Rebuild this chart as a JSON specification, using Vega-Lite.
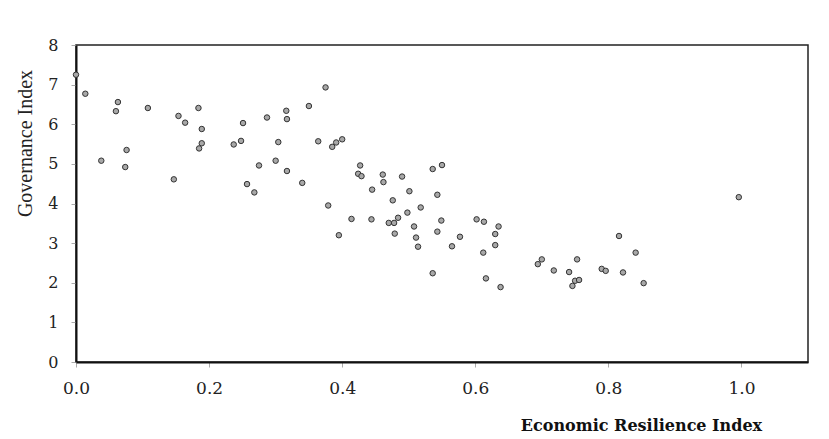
{
  "$schema": "https://vega.github.io/schema/vega-lite/v6.json",
  "autosize": {"type": "none"},
  "padding": {"left": 76, "top": 45, "right": 21, "bottom": 77},
  "width": 732,
  "height": 317,
  "background": "white",
  "config": {
    "view": {"stroke": "#222", "strokeWidth": 1.5},
    "axis": {"grid": false, "labelFlush": false, "labelOverlap": false}
  },
  "data": {
    "values": [
      {"eri": 0.000, "gov": 7.25}, {"eri": 0.014, "gov": 6.77}, {"eri": 0.063, "gov": 6.56},
      {"eri": 0.060, "gov": 6.33}, {"eri": 0.108, "gov": 6.41}, {"eri": 0.154, "gov": 6.21},
      {"eri": 0.164, "gov": 6.04}, {"eri": 0.184, "gov": 6.41}, {"eri": 0.189, "gov": 5.88},
      {"eri": 0.189, "gov": 5.52}, {"eri": 0.185, "gov": 5.39}, {"eri": 0.251, "gov": 6.03},
      {"eri": 0.248, "gov": 5.58}, {"eri": 0.237, "gov": 5.49}, {"eri": 0.076, "gov": 5.35},
      {"eri": 0.038, "gov": 5.08}, {"eri": 0.074, "gov": 4.92}, {"eri": 0.147, "gov": 4.61},
      {"eri": 0.275, "gov": 4.96}, {"eri": 0.257, "gov": 4.49}, {"eri": 0.268, "gov": 4.28},
      {"eri": 0.300, "gov": 5.08}, {"eri": 0.287, "gov": 6.17}, {"eri": 0.304, "gov": 5.55},
      {"eri": 0.375, "gov": 6.93}, {"eri": 0.350, "gov": 6.46}, {"eri": 0.316, "gov": 6.34},
      {"eri": 0.317, "gov": 6.13}, {"eri": 0.364, "gov": 5.57}, {"eri": 0.400, "gov": 5.62},
      {"eri": 0.391, "gov": 5.54}, {"eri": 0.385, "gov": 5.43}, {"eri": 0.317, "gov": 4.82},
      {"eri": 0.340, "gov": 4.52}, {"eri": 0.427, "gov": 4.96}, {"eri": 0.424, "gov": 4.75},
      {"eri": 0.429, "gov": 4.69}, {"eri": 0.461, "gov": 4.73}, {"eri": 0.462, "gov": 4.54},
      {"eri": 0.490, "gov": 4.68}, {"eri": 0.445, "gov": 4.35}, {"eri": 0.501, "gov": 4.31},
      {"eri": 0.476, "gov": 4.08}, {"eri": 0.536, "gov": 4.87}, {"eri": 0.550, "gov": 4.97},
      {"eri": 0.543, "gov": 4.22}, {"eri": 0.518, "gov": 3.90}, {"eri": 0.498, "gov": 3.77},
      {"eri": 0.484, "gov": 3.64}, {"eri": 0.414, "gov": 3.61}, {"eri": 0.444, "gov": 3.60},
      {"eri": 0.470, "gov": 3.51}, {"eri": 0.478, "gov": 3.51}, {"eri": 0.508, "gov": 3.42},
      {"eri": 0.549, "gov": 3.57}, {"eri": 0.543, "gov": 3.29}, {"eri": 0.479, "gov": 3.24},
      {"eri": 0.511, "gov": 3.14}, {"eri": 0.514, "gov": 2.91}, {"eri": 0.565, "gov": 2.92},
      {"eri": 0.577, "gov": 3.16}, {"eri": 0.602, "gov": 3.60}, {"eri": 0.613, "gov": 3.54},
      {"eri": 0.635, "gov": 3.42}, {"eri": 0.630, "gov": 3.23}, {"eri": 0.630, "gov": 2.95},
      {"eri": 0.612, "gov": 2.76}, {"eri": 0.536, "gov": 2.24}, {"eri": 0.616, "gov": 2.11},
      {"eri": 0.638, "gov": 1.89}, {"eri": 0.700, "gov": 2.59}, {"eri": 0.694, "gov": 2.47},
      {"eri": 0.379, "gov": 3.95}, {"eri": 0.395, "gov": 3.20}, {"eri": 0.718, "gov": 2.31},
      {"eri": 0.741, "gov": 2.27}, {"eri": 0.753, "gov": 2.59}, {"eri": 0.750, "gov": 2.05},
      {"eri": 0.756, "gov": 2.07}, {"eri": 0.746, "gov": 1.92}, {"eri": 0.816, "gov": 3.18},
      {"eri": 0.841, "gov": 2.76}, {"eri": 0.790, "gov": 2.35}, {"eri": 0.796, "gov": 2.30},
      {"eri": 0.822, "gov": 2.26}, {"eri": 0.853, "gov": 1.99}, {"eri": 0.996, "gov": 4.16}
    ]
  },
  "mark": {"type": "point", "shape": "circle", "filled": true, "fill": "#a8a8a8", "stroke": "#333", "strokeWidth": 1, "size": 30, "opacity": 1},
  "encoding": {
    "x": {
      "field": "eri", "type": "quantitative",
      "scale": {"domain": [0, 1.1], "nice": false, "zero": false},
      "axis": {
        "title": "Economic Resilience Index",
        "values": [0, 0.2, 0.4, 0.6, 0.8, 1.0],
        "format": ".1f",
        "domainColor": "#111", "domainWidth": 2,
        "tickColor": "#aaa", "tickSize": 5, "tickWidth": 1,
        "labelFont": "DejaVu Serif", "labelFontSize": 17, "labelColor": "#222",
        "labelPadding": 13,
        "titleFont": "DejaVu Serif", "titleFontSize": 16, "titleFontWeight": "bold", "titleColor": "#111",
        "titleX": 565, "titleY": 63, "titleBaseline": "middle", "titleAlign": "center"
      }
    },
    "y": {
      "field": "gov", "type": "quantitative",
      "scale": {"domain": [0, 8], "nice": false},
      "axis": {
        "title": "Governance Index",
        "values": [0, 1, 2, 3, 4, 5, 6, 7, 8],
        "domainColor": "#111", "domainWidth": 2,
        "tickColor": "#aaa", "tickSize": 5, "tickWidth": 1,
        "labelFont": "DejaVu Serif", "labelFontSize": 16, "labelColor": "#222",
        "labelPadding": 13,
        "titleFont": "Liberation Serif", "titleFontSize": 20, "titleFontWeight": "normal", "titleColor": "#222",
        "titleX": -51, "titleY": 98, "titleBaseline": "middle", "titleAlign": "center", "titleAngle": -90
      }
    }
  }
}
